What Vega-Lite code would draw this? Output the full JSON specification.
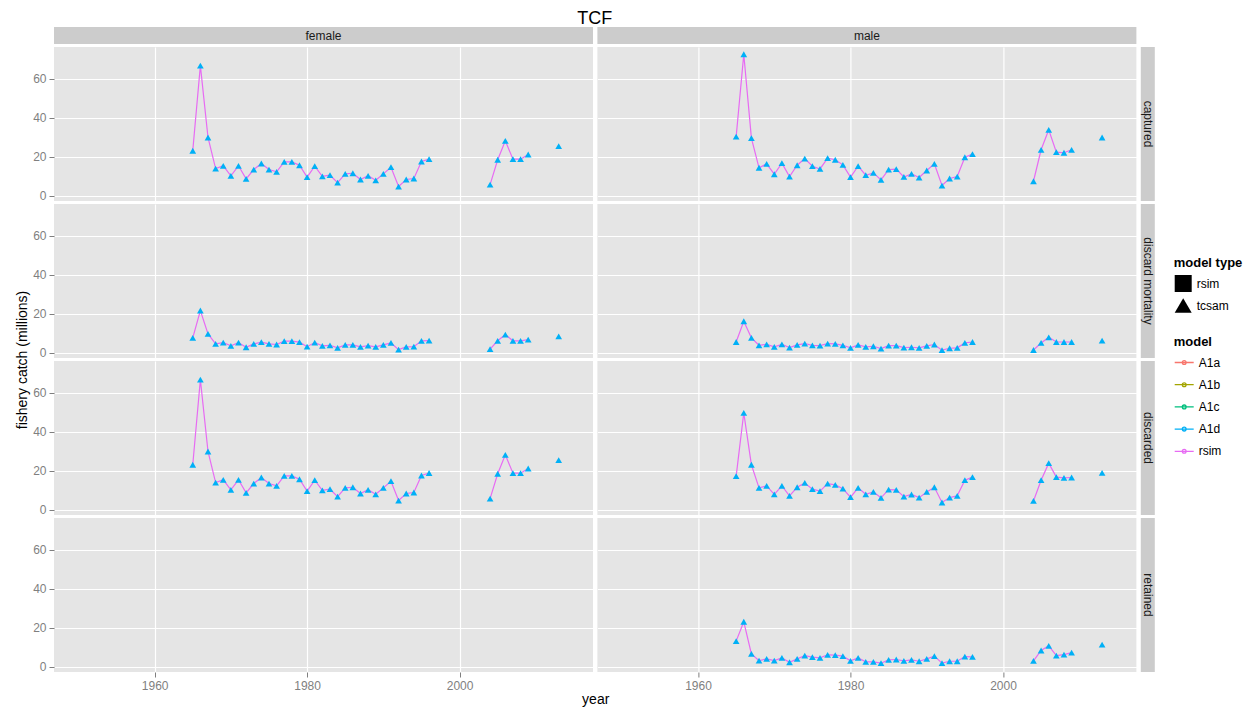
{
  "$schema": "https://vega.github.io/schema/vega-lite/v6.json",
  "padding": {"left": 15, "top": 10, "right": 5, "bottom": 5},
  "title": {"text": "TCF", "anchor": "start", "align": "center", "dx": 579, "fontSize": 18, "fontWeight": "normal", "font": "Liberation Sans", "color": "#000000", "offset": -1},
  "datasets": {
    "catch": [
      {"sex": "female", "year": 1965, "captured": 23.1, "discard mortality": 7.7, "discarded": 23.1, "retained": null},
      {"sex": "female", "year": 1966, "captured": 66.7, "discard mortality": 21.7, "discarded": 66.7, "retained": null},
      {"sex": "female", "year": 1967, "captured": 29.9, "discard mortality": 9.7, "discarded": 29.9, "retained": null},
      {"sex": "female", "year": 1968, "captured": 14.0, "discard mortality": 4.6, "discarded": 14.0, "retained": null},
      {"sex": "female", "year": 1969, "captured": 15.4, "discard mortality": 5.3, "discarded": 15.4, "retained": null},
      {"sex": "female", "year": 1970, "captured": 10.3, "discard mortality": 3.6, "discarded": 10.3, "retained": null},
      {"sex": "female", "year": 1971, "captured": 15.4, "discard mortality": 5.3, "discarded": 15.4, "retained": null},
      {"sex": "female", "year": 1972, "captured": 8.7, "discard mortality": 2.9, "discarded": 8.7, "retained": null},
      {"sex": "female", "year": 1973, "captured": 13.5, "discard mortality": 4.6, "discarded": 13.5, "retained": null},
      {"sex": "female", "year": 1974, "captured": 16.6, "discard mortality": 5.5, "discarded": 16.6, "retained": null},
      {"sex": "female", "year": 1975, "captured": 13.5, "discard mortality": 4.6, "discarded": 13.5, "retained": null},
      {"sex": "female", "year": 1976, "captured": 12.3, "discard mortality": 4.3, "discarded": 12.3, "retained": null},
      {"sex": "female", "year": 1977, "captured": 17.4, "discard mortality": 6.0, "discarded": 17.4, "retained": null},
      {"sex": "female", "year": 1978, "captured": 17.4, "discard mortality": 6.0, "discarded": 17.4, "retained": null},
      {"sex": "female", "year": 1979, "captured": 15.7, "discard mortality": 5.5, "discarded": 15.7, "retained": null},
      {"sex": "female", "year": 1980, "captured": 9.6, "discard mortality": 3.2, "discarded": 9.6, "retained": null},
      {"sex": "female", "year": 1981, "captured": 15.2, "discard mortality": 5.3, "discarded": 15.2, "retained": null},
      {"sex": "female", "year": 1982, "captured": 10.0, "discard mortality": 3.6, "discarded": 10.0, "retained": null},
      {"sex": "female", "year": 1983, "captured": 10.6, "discard mortality": 3.9, "discarded": 10.6, "retained": null},
      {"sex": "female", "year": 1984, "captured": 6.8, "discard mortality": 2.6, "discarded": 6.8, "retained": null},
      {"sex": "female", "year": 1985, "captured": 11.3, "discard mortality": 4.1, "discarded": 11.3, "retained": null},
      {"sex": "female", "year": 1986, "captured": 11.6, "discard mortality": 4.1, "discarded": 11.6, "retained": null},
      {"sex": "female", "year": 1987, "captured": 8.4, "discard mortality": 3.1, "discarded": 8.4, "retained": null},
      {"sex": "female", "year": 1988, "captured": 10.3, "discard mortality": 3.7, "discarded": 10.3, "retained": null},
      {"sex": "female", "year": 1989, "captured": 8.0, "discard mortality": 3.1, "discarded": 8.0, "retained": null},
      {"sex": "female", "year": 1990, "captured": 11.3, "discard mortality": 4.1, "discarded": 11.3, "retained": null},
      {"sex": "female", "year": 1991, "captured": 14.7, "discard mortality": 5.1, "discarded": 14.7, "retained": null},
      {"sex": "female", "year": 1992, "captured": 4.8, "discard mortality": 1.7, "discarded": 4.8, "retained": null},
      {"sex": "female", "year": 1993, "captured": 8.4, "discard mortality": 3.1, "discarded": 8.4, "retained": null},
      {"sex": "female", "year": 1994, "captured": 8.9, "discard mortality": 3.2, "discarded": 8.9, "retained": null},
      {"sex": "female", "year": 1995, "captured": 17.6, "discard mortality": 6.2, "discarded": 17.6, "retained": null},
      {"sex": "female", "year": 1996, "captured": 18.8, "discard mortality": 6.3, "discarded": 18.9, "retained": null},
      {"sex": "female", "year": 2000, "captured": null, "discard mortality": null, "discarded": null, "retained": null},
      {"sex": "female", "year": 2004, "captured": 5.8, "discard mortality": 1.9, "discarded": 5.8, "retained": null},
      {"sex": "female", "year": 2005, "captured": 18.5, "discard mortality": 6.2, "discarded": 18.5, "retained": null},
      {"sex": "female", "year": 2006, "captured": 28.2, "discard mortality": 9.4, "discarded": 28.2, "retained": null},
      {"sex": "female", "year": 2007, "captured": 18.8, "discard mortality": 6.2, "discarded": 18.8, "retained": null},
      {"sex": "female", "year": 2008, "captured": 18.8, "discard mortality": 6.2, "discarded": 18.8, "retained": null},
      {"sex": "female", "year": 2009, "captured": 21.2, "discard mortality": 6.8, "discarded": 21.2, "retained": null},
      {"sex": "female", "year": 2011, "captured": null, "discard mortality": null, "discarded": null, "retained": null},
      {"sex": "female", "year": 2013, "captured": 25.5, "discard mortality": 8.5, "discarded": 25.5, "retained": null},
      {"sex": "male", "year": 1965, "captured": 30.3, "discard mortality": 5.6, "discarded": 17.3, "retained": 13.2},
      {"sex": "male", "year": 1966, "captured": 72.5, "discard mortality": 16.2, "discarded": 49.7, "retained": 23.1},
      {"sex": "male", "year": 1967, "captured": 29.6, "discard mortality": 7.7, "discarded": 23.1, "retained": 6.7},
      {"sex": "male", "year": 1968, "captured": 14.4, "discard mortality": 3.9, "discarded": 11.3, "retained": 3.2},
      {"sex": "male", "year": 1969, "captured": 16.4, "discard mortality": 4.4, "discarded": 12.3, "retained": 4.1},
      {"sex": "male", "year": 1970, "captured": 11.1, "discard mortality": 3.1, "discarded": 8.0, "retained": 3.2},
      {"sex": "male", "year": 1971, "captured": 16.8, "discard mortality": 4.4, "discarded": 12.3, "retained": 4.6},
      {"sex": "male", "year": 1972, "captured": 9.9, "discard mortality": 2.7, "discarded": 7.2, "retained": 2.4},
      {"sex": "male", "year": 1973, "captured": 15.7, "discard mortality": 4.1, "discarded": 11.6, "retained": 4.1},
      {"sex": "male", "year": 1974, "captured": 19.1, "discard mortality": 4.8, "discarded": 13.8, "retained": 5.8},
      {"sex": "male", "year": 1975, "captured": 15.2, "discard mortality": 3.9, "discarded": 10.6, "retained": 5.0},
      {"sex": "male", "year": 1976, "captured": 13.8, "discard mortality": 3.7, "discarded": 9.6, "retained": 4.6},
      {"sex": "male", "year": 1977, "captured": 19.3, "discard mortality": 4.8, "discarded": 13.5, "retained": 6.2},
      {"sex": "male", "year": 1978, "captured": 18.5, "discard mortality": 4.6, "discarded": 12.8, "retained": 6.0},
      {"sex": "male", "year": 1979, "captured": 15.9, "discard mortality": 3.9, "discarded": 10.9, "retained": 5.5},
      {"sex": "male", "year": 1980, "captured": 9.6, "discard mortality": 2.6, "discarded": 6.5, "retained": 3.1},
      {"sex": "male", "year": 1981, "captured": 15.2, "discard mortality": 4.1, "discarded": 11.3, "retained": 4.6},
      {"sex": "male", "year": 1982, "captured": 10.6, "discard mortality": 3.1, "discarded": 8.0, "retained": 2.6},
      {"sex": "male", "year": 1983, "captured": 11.8, "discard mortality": 3.4, "discarded": 9.2, "retained": 2.6},
      {"sex": "male", "year": 1984, "captured": 8.2, "discard mortality": 2.2, "discarded": 6.2, "retained": 1.9},
      {"sex": "male", "year": 1985, "captured": 13.5, "discard mortality": 3.7, "discarded": 10.4, "retained": 3.6},
      {"sex": "male", "year": 1986, "captured": 13.7, "discard mortality": 3.7, "discarded": 10.3, "retained": 3.8},
      {"sex": "male", "year": 1987, "captured": 9.7, "discard mortality": 2.7, "discarded": 6.8, "retained": 3.1},
      {"sex": "male", "year": 1988, "captured": 11.3, "discard mortality": 2.9, "discarded": 7.9, "retained": 3.6},
      {"sex": "male", "year": 1989, "captured": 9.4, "discard mortality": 2.6, "discarded": 6.3, "retained": 2.9},
      {"sex": "male", "year": 1990, "captured": 13.0, "discard mortality": 3.6, "discarded": 9.2, "retained": 4.1},
      {"sex": "male", "year": 1991, "captured": 16.4, "discard mortality": 4.3, "discarded": 11.6, "retained": 5.5},
      {"sex": "male", "year": 1992, "captured": 5.3, "discard mortality": 1.4, "discarded": 3.8, "retained": 1.9},
      {"sex": "male", "year": 1993, "captured": 8.9, "discard mortality": 2.4, "discarded": 6.3, "retained": 2.9},
      {"sex": "male", "year": 1994, "captured": 9.9, "discard mortality": 2.6, "discarded": 7.2, "retained": 2.9},
      {"sex": "male", "year": 1995, "captured": 19.8, "discard mortality": 5.1, "discarded": 15.2, "retained": 5.3},
      {"sex": "male", "year": 1996, "captured": 21.4, "discard mortality": 5.6, "discarded": 16.8, "retained": 5.1},
      {"sex": "male", "year": 2000, "captured": null, "discard mortality": null, "discarded": null, "retained": null},
      {"sex": "male", "year": 2004, "captured": 7.5, "discard mortality": 1.5, "discarded": 4.6, "retained": 3.1},
      {"sex": "male", "year": 2005, "captured": 23.6, "discard mortality": 5.1, "discarded": 15.2, "retained": 8.4},
      {"sex": "male", "year": 2006, "captured": 33.8, "discard mortality": 8.0, "discarded": 23.9, "retained": 10.8},
      {"sex": "male", "year": 2007, "captured": 22.4, "discard mortality": 5.6, "discarded": 16.8, "retained": 5.8},
      {"sex": "male", "year": 2008, "captured": 22.1, "discard mortality": 5.6, "discarded": 16.4, "retained": 6.3},
      {"sex": "male", "year": 2009, "captured": 23.6, "discard mortality": 5.6, "discarded": 16.6, "retained": 7.3},
      {"sex": "male", "year": 2011, "captured": null, "discard mortality": null, "discarded": null, "retained": null},
      {"sex": "male", "year": 2013, "captured": 29.9, "discard mortality": 6.3, "discarded": 19.0, "retained": 11.4}
    ]
  },
  "data": {"name": "catch"},
  "columns": 3,
  "spacing": {"row": 3, "column": 4.4},
  "bounds": "flush",
  "resolve": {"scale": {"x": "independent", "y": "independent", "color": "shared", "shape": "shared"}, "legend": {"color": "shared", "shape": "shared"}},
  "concat": [
    {"data": {"values": [{"label": "female"}]}, "width": 539, "height": 17, "view": {"fill": "#CCCCCC", "stroke": null},
     "mark": {"type": "text", "fontSize": 12, "color": "#1A1A1A"}, "encoding": {"text": {"field": "label", "type": "nominal"}}},
    {"data": {"values": [{"label": "male"}]}, "width": 539, "height": 17, "view": {"fill": "#CCCCCC", "stroke": null},
     "mark": {"type": "text", "fontSize": 12, "color": "#1A1A1A"}, "encoding": {"text": {"field": "label", "type": "nominal"}}},
    {"data": {"values": [{"label": ""}]}, "transform": [{"filter": "false"}], "width": 14, "height": 17, "view": {"fill": null, "stroke": null},
     "mark": {"type": "point", "filled": true, "color": "#000000", "opacity": 1},
     "encoding": {
       "shape": {"datum": "tcsam", "type": "nominal",
         "scale": {"domain": ["rsim", "tcsam"], "range": ["square", "triangle-up"]},
         "legend": {"title": "model type", "orient": "none", "legendX": 1119.7, "legendY": 230, "symbolSize": 289, "symbolFillColor": "#000000", "symbolStrokeColor": "#000000", "symbolOpacity": 1, "rowPadding": 0, "titlePadding": 4, "labelOffset": 4}}
     }},

    {"width": 539, "height": 154,
     "transform": [{"fold": ["captured", "discard mortality", "discarded", "retained"], "as": ["type", "catch"]}, {"filter": "datum.sex === 'female' && datum.type === 'captured'"}],
     "layer": [
      {"mark": {"type": "line", "strokeWidth": 1.2, "invalid": "break-paths-filter-domains"},
       "encoding": {
        "x": {"field": "year", "type": "quantitative", "scale": {"domain": [1946.8, 2017.5], "nice": false, "zero": false}, "axis": {"values": [1960, 1980, 2000], "labels": false, "ticks": false, "title": null}},
        "y": {"field": "catch", "type": "quantitative", "scale": {"domain": [-2.6, 76.2], "nice": false, "zero": false}, "axis": {"values": [0, 20, 40, 60], "title": null}},
        "color": {"datum": "rsim", "type": "nominal",
          "scale": {"domain": ["A1a", "A1b", "A1c", "A1d", "rsim"], "range": ["#F8766D", "#A3A500", "#00BF7D", "#00B0F6", "#E76BF3"]},
          "legend": {"title": "model", "orient": "none", "legendX": 1119.7, "legendY": 309, "symbolType": "M-1,0L1,0M-0.2,0a0.2,0.2 0 1,0 0.4,0a0.2,0.2 0 1,0 -0.4,0", "symbolSize": 361, "symbolStrokeWidth": 1.3, "rowPadding": 5.2, "titlePadding": 3, "labelOffset": 4}}
       }},
      {"mark": {"type": "point", "filled": true, "size": 45, "opacity": 1, "shape": "triangle-up", "color": "#00B0F6"},
       "encoding": {
        "x": {"field": "year", "type": "quantitative", "axis": {"values": [1950, 1970, 1990, 2010], "orient": "bottom", "labels": false, "ticks": false, "title": null, "gridColor": "#F2F2F2", "gridWidth": 0.5}},
        "y": {"field": "catch", "type": "quantitative", "axis": {"values": [10, 30, 50, 70], "orient": "left", "labels": false, "ticks": false, "title": null, "gridColor": "#F2F2F2", "gridWidth": 0.5}}
       }}
     ],
     "resolve": {"axis": {"x": "independent", "y": "independent"}}},

    {"width": 539, "height": 154,
     "transform": [{"fold": ["captured", "discard mortality", "discarded", "retained"], "as": ["type", "catch"]}, {"filter": "datum.sex === 'male' && datum.type === 'captured'"}],
     "layer": [
      {"mark": {"type": "line", "strokeWidth": 1.2, "invalid": "break-paths-filter-domains"},
       "encoding": {
        "x": {"field": "year", "type": "quantitative", "scale": {"domain": [1946.8, 2017.5], "nice": false, "zero": false}, "axis": {"values": [1960, 1980, 2000], "labels": false, "ticks": false, "title": null}},
        "y": {"field": "catch", "type": "quantitative", "scale": {"domain": [-2.6, 76.2], "nice": false, "zero": false}, "axis": {"values": [0, 20, 40, 60], "labels": false, "ticks": false, "title": null}},
        "color": {"datum": "rsim", "type": "nominal"}
       }},
      {"mark": {"type": "point", "filled": true, "size": 45, "opacity": 1, "shape": "triangle-up", "color": "#00B0F6"},
       "encoding": {
        "x": {"field": "year", "type": "quantitative", "axis": {"values": [1950, 1970, 1990, 2010], "orient": "bottom", "labels": false, "ticks": false, "title": null, "gridColor": "#F2F2F2", "gridWidth": 0.5}},
        "y": {"field": "catch", "type": "quantitative", "axis": {"values": [10, 30, 50, 70], "orient": "left", "labels": false, "ticks": false, "title": null, "gridColor": "#F2F2F2", "gridWidth": 0.5}}
       }}
     ],
     "resolve": {"axis": {"x": "independent", "y": "independent"}}},

    {"data": {"values": [{"label": "captured"}]}, "width": 14, "height": 154, "view": {"fill": "#CCCCCC", "stroke": null},
     "mark": {"type": "text", "fontSize": 12, "color": "#1A1A1A", "angle": 90}, "encoding": {"text": {"field": "label", "type": "nominal"}}},

    {"width": 539, "height": 154,
     "transform": [{"fold": ["captured", "discard mortality", "discarded", "retained"], "as": ["type", "catch"]}, {"filter": "datum.sex === 'female' && datum.type === 'discard mortality'"}],
     "layer": [
      {"mark": {"type": "line", "strokeWidth": 1.2, "invalid": "break-paths-filter-domains"},
       "encoding": {
        "x": {"field": "year", "type": "quantitative", "scale": {"domain": [1946.8, 2017.5], "nice": false, "zero": false}, "axis": {"values": [1960, 1980, 2000], "labels": false, "ticks": false, "title": null}},
        "y": {"field": "catch", "type": "quantitative", "scale": {"domain": [-2.6, 76.2], "nice": false, "zero": false}, "axis": {"values": [0, 20, 40, 60], "title": "fishery catch (millions)", "titleY": 155.5, "titlePadding": 3}},
        "color": {"datum": "rsim", "type": "nominal"}
       }},
      {"mark": {"type": "point", "filled": true, "size": 45, "opacity": 1, "shape": "triangle-up", "color": "#00B0F6"},
       "encoding": {
        "x": {"field": "year", "type": "quantitative", "axis": {"values": [1950, 1970, 1990, 2010], "orient": "bottom", "labels": false, "ticks": false, "title": null, "gridColor": "#F2F2F2", "gridWidth": 0.5}},
        "y": {"field": "catch", "type": "quantitative", "axis": {"values": [10, 30, 50, 70], "orient": "left", "labels": false, "ticks": false, "title": null, "gridColor": "#F2F2F2", "gridWidth": 0.5}}
       }}
     ],
     "resolve": {"axis": {"x": "independent", "y": "independent"}}},

    {"width": 539, "height": 154,
     "transform": [{"fold": ["captured", "discard mortality", "discarded", "retained"], "as": ["type", "catch"]}, {"filter": "datum.sex === 'male' && datum.type === 'discard mortality'"}],
     "layer": [
      {"mark": {"type": "line", "strokeWidth": 1.2, "invalid": "break-paths-filter-domains"},
       "encoding": {
        "x": {"field": "year", "type": "quantitative", "scale": {"domain": [1946.8, 2017.5], "nice": false, "zero": false}, "axis": {"values": [1960, 1980, 2000], "labels": false, "ticks": false, "title": null}},
        "y": {"field": "catch", "type": "quantitative", "scale": {"domain": [-2.6, 76.2], "nice": false, "zero": false}, "axis": {"values": [0, 20, 40, 60], "labels": false, "ticks": false, "title": null}},
        "color": {"datum": "rsim", "type": "nominal"}
       }},
      {"mark": {"type": "point", "filled": true, "size": 45, "opacity": 1, "shape": "triangle-up", "color": "#00B0F6"},
       "encoding": {
        "x": {"field": "year", "type": "quantitative", "axis": {"values": [1950, 1970, 1990, 2010], "orient": "bottom", "labels": false, "ticks": false, "title": null, "gridColor": "#F2F2F2", "gridWidth": 0.5}},
        "y": {"field": "catch", "type": "quantitative", "axis": {"values": [10, 30, 50, 70], "orient": "left", "labels": false, "ticks": false, "title": null, "gridColor": "#F2F2F2", "gridWidth": 0.5}}
       }}
     ],
     "resolve": {"axis": {"x": "independent", "y": "independent"}}},

    {"data": {"values": [{"label": "discard mortality"}]}, "width": 14, "height": 154, "view": {"fill": "#CCCCCC", "stroke": null},
     "mark": {"type": "text", "fontSize": 12, "color": "#1A1A1A", "angle": 90}, "encoding": {"text": {"field": "label", "type": "nominal"}}},

    {"width": 539, "height": 154,
     "transform": [{"fold": ["captured", "discard mortality", "discarded", "retained"], "as": ["type", "catch"]}, {"filter": "datum.sex === 'female' && datum.type === 'discarded'"}],
     "layer": [
      {"mark": {"type": "line", "strokeWidth": 1.2, "invalid": "break-paths-filter-domains"},
       "encoding": {
        "x": {"field": "year", "type": "quantitative", "scale": {"domain": [1946.8, 2017.5], "nice": false, "zero": false}, "axis": {"values": [1960, 1980, 2000], "labels": false, "ticks": false, "title": null}},
        "y": {"field": "catch", "type": "quantitative", "scale": {"domain": [-2.6, 76.2], "nice": false, "zero": false}, "axis": {"values": [0, 20, 40, 60], "title": null}},
        "color": {"datum": "rsim", "type": "nominal"}
       }},
      {"mark": {"type": "point", "filled": true, "size": 45, "opacity": 1, "shape": "triangle-up", "color": "#00B0F6"},
       "encoding": {
        "x": {"field": "year", "type": "quantitative", "axis": {"values": [1950, 1970, 1990, 2010], "orient": "bottom", "labels": false, "ticks": false, "title": null, "gridColor": "#F2F2F2", "gridWidth": 0.5}},
        "y": {"field": "catch", "type": "quantitative", "axis": {"values": [10, 30, 50, 70], "orient": "left", "labels": false, "ticks": false, "title": null, "gridColor": "#F2F2F2", "gridWidth": 0.5}}
       }}
     ],
     "resolve": {"axis": {"x": "independent", "y": "independent"}}},

    {"width": 539, "height": 154,
     "transform": [{"fold": ["captured", "discard mortality", "discarded", "retained"], "as": ["type", "catch"]}, {"filter": "datum.sex === 'male' && datum.type === 'discarded'"}],
     "layer": [
      {"mark": {"type": "line", "strokeWidth": 1.2, "invalid": "break-paths-filter-domains"},
       "encoding": {
        "x": {"field": "year", "type": "quantitative", "scale": {"domain": [1946.8, 2017.5], "nice": false, "zero": false}, "axis": {"values": [1960, 1980, 2000], "labels": false, "ticks": false, "title": null}},
        "y": {"field": "catch", "type": "quantitative", "scale": {"domain": [-2.6, 76.2], "nice": false, "zero": false}, "axis": {"values": [0, 20, 40, 60], "labels": false, "ticks": false, "title": null}},
        "color": {"datum": "rsim", "type": "nominal"}
       }},
      {"mark": {"type": "point", "filled": true, "size": 45, "opacity": 1, "shape": "triangle-up", "color": "#00B0F6"},
       "encoding": {
        "x": {"field": "year", "type": "quantitative", "axis": {"values": [1950, 1970, 1990, 2010], "orient": "bottom", "labels": false, "ticks": false, "title": null, "gridColor": "#F2F2F2", "gridWidth": 0.5}},
        "y": {"field": "catch", "type": "quantitative", "axis": {"values": [10, 30, 50, 70], "orient": "left", "labels": false, "ticks": false, "title": null, "gridColor": "#F2F2F2", "gridWidth": 0.5}}
       }}
     ],
     "resolve": {"axis": {"x": "independent", "y": "independent"}}},

    {"data": {"values": [{"label": "discarded"}]}, "width": 14, "height": 154, "view": {"fill": "#CCCCCC", "stroke": null},
     "mark": {"type": "text", "fontSize": 12, "color": "#1A1A1A", "angle": 90}, "encoding": {"text": {"field": "label", "type": "nominal"}}},

    {"width": 539, "height": 154,
     "transform": [{"fold": ["captured", "discard mortality", "discarded", "retained"], "as": ["type", "catch"]}, {"filter": "datum.sex === 'female' && datum.type === 'retained'"}],
     "layer": [
      {"mark": {"type": "line", "strokeWidth": 1.2, "invalid": "break-paths-filter-domains"},
       "encoding": {
        "x": {"field": "year", "type": "quantitative", "scale": {"domain": [1946.8, 2017.5], "nice": false, "zero": false}, "axis": {"values": [1960, 1980, 2000], "format": "d", "title": "year", "titleX": 541.2, "titlePadding": 1}},
        "y": {"field": "catch", "type": "quantitative", "scale": {"domain": [-2.6, 76.2], "nice": false, "zero": false}, "axis": {"values": [0, 20, 40, 60], "title": null}},
        "color": {"datum": "rsim", "type": "nominal"}
       }},
      {"mark": {"type": "point", "filled": true, "size": 45, "opacity": 1, "shape": "triangle-up", "color": "#00B0F6"},
       "encoding": {
        "x": {"field": "year", "type": "quantitative", "axis": {"values": [1950, 1970, 1990, 2010], "orient": "bottom", "labels": false, "ticks": false, "title": null, "gridColor": "#F2F2F2", "gridWidth": 0.5}},
        "y": {"field": "catch", "type": "quantitative", "axis": {"values": [10, 30, 50, 70], "orient": "left", "labels": false, "ticks": false, "title": null, "gridColor": "#F2F2F2", "gridWidth": 0.5}}
       }}
     ],
     "resolve": {"axis": {"x": "independent", "y": "independent"}}},

    {"width": 539, "height": 154,
     "transform": [{"fold": ["captured", "discard mortality", "discarded", "retained"], "as": ["type", "catch"]}, {"filter": "datum.sex === 'male' && datum.type === 'retained'"}],
     "layer": [
      {"mark": {"type": "line", "strokeWidth": 1.2, "invalid": "break-paths-filter-domains"},
       "encoding": {
        "x": {"field": "year", "type": "quantitative", "scale": {"domain": [1946.8, 2017.5], "nice": false, "zero": false}, "axis": {"values": [1960, 1980, 2000], "format": "d", "title": null}},
        "y": {"field": "catch", "type": "quantitative", "scale": {"domain": [-2.6, 76.2], "nice": false, "zero": false}, "axis": {"values": [0, 20, 40, 60], "labels": false, "ticks": false, "title": null}},
        "color": {"datum": "rsim", "type": "nominal"}
       }},
      {"mark": {"type": "point", "filled": true, "size": 45, "opacity": 1, "shape": "triangle-up", "color": "#00B0F6"},
       "encoding": {
        "x": {"field": "year", "type": "quantitative", "axis": {"values": [1950, 1970, 1990, 2010], "orient": "bottom", "labels": false, "ticks": false, "title": null, "gridColor": "#F2F2F2", "gridWidth": 0.5}},
        "y": {"field": "catch", "type": "quantitative", "axis": {"values": [10, 30, 50, 70], "orient": "left", "labels": false, "ticks": false, "title": null, "gridColor": "#F2F2F2", "gridWidth": 0.5}}
       }}
     ],
     "resolve": {"axis": {"x": "independent", "y": "independent"}}},

    {"data": {"values": [{"label": "retained"}]}, "width": 14, "height": 154, "view": {"fill": "#CCCCCC", "stroke": null},
     "mark": {"type": "text", "fontSize": 12, "color": "#1A1A1A", "angle": 90}, "encoding": {"text": {"field": "label", "type": "nominal"}}}
  ],
  "config": {
    "font": "Liberation Sans",
    "view": {"fill": "#E5E5E5", "stroke": null},
    "axis": {"domain": false, "grid": true, "gridColor": "#FFFFFF", "gridWidth": 1.2, "gridOpacity": 1, "tickColor": "#7F7F7F", "tickSize": 5, "tickWidth": 1, "labelColor": "#7F7F7F", "labelFontSize": 12, "labelPadding": 3, "labelFont": "Liberation Sans", "titleFont": "Liberation Sans", "titleFontSize": 14, "titleFontWeight": "normal", "titleColor": "#000000"},
    "legend": {"titleFont": "Liberation Sans", "labelFont": "Liberation Sans", "titleFontSize": 13, "titleFontWeight": "bold", "titleColor": "#000000", "labelFontSize": 12, "labelColor": "#000000", "padding": 0}
  }
}
